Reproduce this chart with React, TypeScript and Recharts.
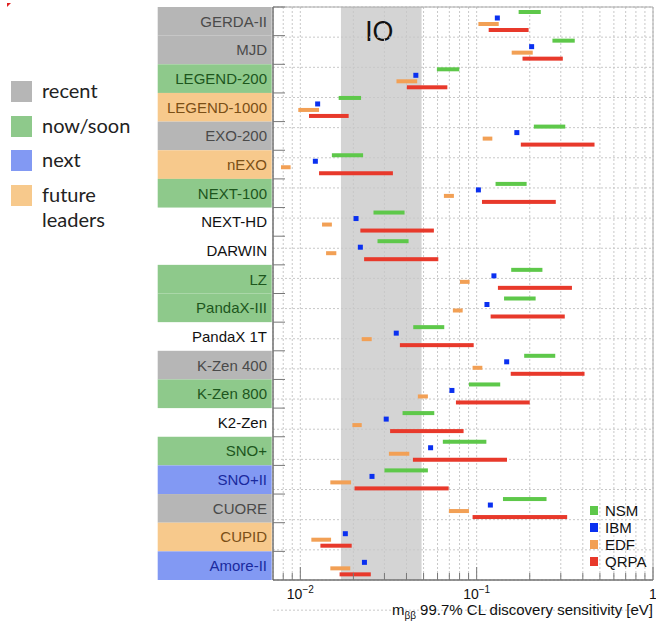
import React from 'react';
import { ComposedChart, Bar, XAxis, YAxis, CartesianGrid, ReferenceArea, Legend } from 'recharts';

const experiments = [
  'GERDA-II', 'MJD', 'LEGEND-200', 'LEGEND-1000', 'EXO-200', 'nEXO', 'NEXT-100', 'NEXT-HD', 'DARWIN', 'LZ',
  'PandaX-III', 'PandaX 1T', 'K-Zen 400', 'K-Zen 800', 'K2-Zen', 'SNO+', 'SNO+II', 'CUORE', 'CUPID', 'Amore-II',
];
const stages = [
  'recent', 'recent', 'now', 'future', 'recent', 'future', 'now', 'none', 'none', 'now',
  'now', 'none', 'recent', 'now', 'none', 'now', 'next', 'recent', 'future', 'next',
];

// sensitivity ranges in eV, per nuclear model
const nsm = [
  [0.173, 0.231], [0.269, 0.36], [0.0595, 0.0797], [0.0165, 0.0221], [0.211, 0.318],
  [0.0151, 0.0227], [0.128, 0.192], [0.026, 0.039], [0.0274, 0.0411], [0.157, 0.236],
  [0.143, 0.216], [0.0437, 0.0655], [0.186, 0.279], [0.0904, 0.136], [0.038, 0.0575],
  [0.0643, 0.1135], [0.03, 0.0529], [0.141, 0.249], null, null,
];
const ibm = [
  0.131, 0.205, 0.0452, 0.01254, 0.169, 0.01217, 0.1023, 0.0207, 0.0219, 0.1253,
  0.1144, 0.035, 0.148, 0.0724, 0.0307, 0.0548, 0.0255, 0.1196, 0.018, 0.0231,
];
const edf = [
  [0.1023, 0.1334], [0.158, 0.208], [0.0351, 0.046], [0.00974, 0.01277], [0.1082, 0.1227],
  [0.00777, 0.00881], [0.0652, 0.0743], [0.01328, 0.0151], [0.014, 0.016], [0.0804, 0.0912],
  [0.0733, 0.0833], [0.0223, 0.0254], [0.0948, 0.1077], [0.0464, 0.0529], [0.01974, 0.0223],
  [0.0318, 0.0415], [0.0148, 0.0194], [0.0696, 0.0904], [0.01155, 0.01494], [0.0148, 0.0192],
];
const qrpa = [
  [0.117, 0.197], [0.182, 0.308], [0.0402, 0.0682], [0.0112, 0.0188], [0.178, 0.466],
  [0.01277, 0.0335], [0.1072, 0.281], [0.0219, 0.0572], [0.023, 0.0606], [0.132, 0.347],
  [0.12, 0.316], [0.0367, 0.0962], [0.156, 0.409], [0.0763, 0.2], [0.0323, 0.0843],
  [0.0435, 0.1486], [0.0203, 0.0694], [0.0948, 0.326], [0.013, 0.01956], [0.0167, 0.0251],
];

const seriesOrder = ['NSM', 'IBM', 'EDF', 'QRPA'];
const xDomain = [0.007, 1];
const xTicks = [
  0.008, 0.009, 0.01, 0.02, 0.03, 0.04, 0.05, 0.06, 0.07, 0.08, 0.09,
  0.1, 0.2, 0.3, 0.4, 0.5, 0.6, 0.7, 0.8, 0.9, 1,
];
const majorTicks = [0.01, 0.1, 1];
const majorExponents = ['−2', '−1', ''];
const ioBand = [0.017, 0.0487];
const rowTicks = [0, 1, 2, 3, 4, 5, 6, 7, 8, 9, 10, 11, 12, 13, 14, 15, 16, 17, 18, 19, 20];

const stageLegend = [
  { key: 'recent', label: 'recent' },
  { key: 'now', label: 'now/soon' },
  { key: 'next', label: 'next' },
  { key: 'future', label: 'future leaders' },
];

const stageStyle: Record<string, { box: string; text: string }> = {
  recent: { box: '#b6b6b6', text: '#4a4a4a' },
  now: { box: '#8ec98b', text: '#1d561d' },
  next: { box: '#8299f3', text: '#1a2a9e' },
  future: { box: '#f7c98c', text: '#7a4f16' },
  none: { box: 'none', text: '#111111' },
};

const data = experiments.map((name, i) => ({
  name,
  stage: stages[i],
  nsm: nsm[i],
  ibm: ibm[i],
  edf: edf[i],
  qrpa: qrpa[i],
}));

const W = 656;
const H = 626;
const MARGIN = { top: 7, right: 3, bottom: 0, left: 150 };
const X_AXIS_H = 46;
const ROW_H = (H - MARGIN.top - MARGIN.bottom - X_AXIS_H) / experiments.length;
const FONT = '"Liberation Sans", Arial, sans-serif';

const ok = (...v: any[]) => v.every((n) => Number.isFinite(n));

const RangeBar = (props: any) => {
  const { x, y, width, height, fill } = props;
  if (!ok(x, y, width, height)) return <g />;
  return <rect x={x} y={y} width={width} height={height} fill={fill} />;
};

const IbmMark = (props: any) => {
  const { x, y, width, height, fill } = props;
  if (!ok(x, y, width, height)) return <g />;
  const cx = x + width;
  const cy = y + height / 2;
  return <rect x={cx - 2.5} y={cy - 2.5} width={5} height={5} fill={fill} />;
};

const YTick = (props: any) => {
  const { x, y, payload } = props;
  const idx = experiments.indexOf(payload.value);
  const st = stageStyle[stages[idx]] || stageStyle.none;
  return (
    <g>
      {st.box !== 'none' && (
        <rect x={x - 115.3} y={y - ROW_H / 2} width={114} height={ROW_H} fill={st.box} />
      )}
      <text x={x - 6} y={y} dy="0.36em" textAnchor="end" fontSize={15} fontFamily={FONT} fill={st.text}>
        {payload.value}
      </text>
      <line x1={x} x2={x + 12} y1={y - ROW_H / 2} y2={y - ROW_H / 2} stroke="#777" />
    </g>
  );
};

const XTick = (props: any) => {
  const { x, y, payload } = props;
  const mi = majorTicks.indexOf(payload.value);
  const major = mi >= 0;
  return (
    <g>
      <line x1={x} x2={x} y1={y} y2={y - (major ? 13 : 7)} stroke="#777" />
      {major && (
        <text x={x} y={y + 19} textAnchor="middle" fontSize={14} fontFamily={FONT} fill="#111">
          {majorExponents[mi] ? '10' : '1'}
          {majorExponents[mi] && (
            <tspan dy={-6} fontSize={10}>
              {majorExponents[mi]}
            </tspan>
          )}
        </text>
      )}
    </g>
  );
};

const renderXTitle = (props: any) => {
  const vb = props.viewBox;
  return (
    <text x={vb.x + vb.width} y={vb.y + 35} textAnchor="end" fontSize={15} fontFamily={FONT} fill="#111">
      m
      <tspan dy={4} fontSize={10}>
        ββ
      </tspan>
      <tspan dy={-4}> 99.7% CL discovery sensitivity [eV]</tspan>
    </text>
  );
};

const renderIO = (props: any) => {
  const vb = props.viewBox;
  return (
    <text x={vb.x + vb.width / 2 - 2} y={vb.y + 34} textAnchor="middle" fontSize={26} fontFamily="Lato, sans-serif" fill="#111">
      IO
    </text>
  );
};

const renderLegend = (props: any) => {
  const items = [...(props.payload || [])].sort(
    (a: any, b: any) => seriesOrder.indexOf(a.value) - seriesOrder.indexOf(b.value)
  );
  return (
    <div style={{ fontFamily: FONT, fontSize: 15, color: '#111' }}>
      {items.map((p: any) => (
        <div key={p.value} style={{ display: 'flex', alignItems: 'center', height: 17 }}>
          <span style={{ display: 'inline-block', width: 8, height: 9, background: p.color, marginRight: 7 }} />
          {p.value}
        </div>
      ))}
    </div>
  );
};

export default function App() {
  return (
    <div style={{ position: 'absolute', left: 0, top: 0, width: W, height: H, background: '#fff' }}>
      <div
        style={{
          position: 'absolute', left: 7, top: 3, width: 0, height: 0,
          borderTop: '4px solid #e02020', borderRight: '4px solid transparent',
        }}
      />
      {stageLegend.map((s, i) => (
        <div key={s.key} style={{ position: 'absolute', left: 11, top: 81 + i * 34.6 }}>
          <div style={{ position: 'absolute', left: 0, top: 0, width: 21, height: 21, background: stageStyle[s.key].box }} />
          <div
            style={{
              position: 'absolute', left: 31, top: -3, width: 90, fontFamily: 'Lato, sans-serif',
              fontSize: 20, lineHeight: '25px', color: '#222',
            }}
          >
            {s.label}
          </div>
        </div>
      ))}
      <div style={{ position: 'absolute', left: 0, top: 0 }}>
        <ComposedChart width={W} height={H} data={data} layout="vertical" margin={MARGIN} barGap={2}>
          <ReferenceArea x1={ioBand[0]} x2={ioBand[1]} fill="#999999" fillOpacity={0.42} stroke="none" label={renderIO} zIndex={-150} />
          <CartesianGrid yAxisId="grid" strokeDasharray="2 2" stroke="#c8c8c8" />
          <XAxis
            type="number"
            scale="log"
            domain={xDomain}
            allowDataOverflow
            ticks={xTicks}
            interval={0}
            tick={<XTick />}
            tickLine={false}
            tickSize={0}
            tickMargin={0}
            height={X_AXIS_H}
            axisLine={{ stroke: '#555' }}
            label={{ content: renderXTitle }}
          />
          <YAxis
            type="category"
            dataKey="name"
            width={123}
            interval={0}
            tick={<YTick />}
            tickLine={false}
            tickSize={0}
            tickMargin={0}
            axisLine={{ stroke: '#555' }}
          />
          <YAxis yAxisId="grid" type="number" domain={[0, 20]} ticks={rowTicks} hide orientation="right" />
          <ReferenceArea x1={xDomain[0]} x2={xDomain[1]} fill="none" stroke="#aaa" />
          <Bar dataKey="nsm" name="NSM" fill="#5ec84a" barSize={4} shape={RangeBar} isAnimationActive={false} />
          <Bar dataKey="ibm" name="IBM" fill="#0a30f0" barSize={4} shape={IbmMark} isAnimationActive={false} />
          <Bar dataKey="edf" name="EDF" fill="#f2a055" barSize={4} shape={RangeBar} isAnimationActive={false} />
          <Bar dataKey="qrpa" name="QRPA" fill="#e8392b" barSize={4} shape={RangeBar} isAnimationActive={false} />
          <Legend
            layout="vertical"
            align="center"
            verticalAlign="middle"
            content={renderLegend}
            wrapperStyle={{ position: 'absolute', left: 590, top: 502, width: 70, height: 70 }}
          />
        </ComposedChart>
      </div>
    </div>
  );
}
